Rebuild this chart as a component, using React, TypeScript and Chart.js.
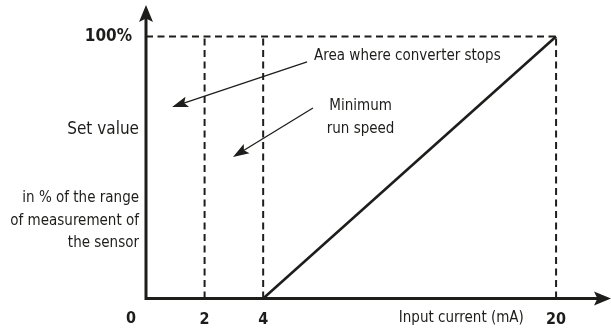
import React, { useEffect, useRef } from 'react';
import { Chart, registerables, LinearScale } from 'chart.js';

// ---- data ----
const X_TICKS = [2, 4, 20];
const X_TICK_LABELS = ['2', '4', '20'];
const Y_TICKS = [100];
const Y_TICK_LABELS = ['100%'];
const CURVE_X = [4, 20];
const CURVE_Y = [0, 100];
const GUIDE_X = [2, 4, 20];
const GUIDE_TOP = 100;
const X_MIN = 0;
const X_MAX = 23;
const Y_MIN = 0;
const Y_MAX = 112;
const ORIGIN_LABEL = '0';
const X_TITLE = 'Input current (mA)';
const Y_TITLE = 'Set value';
const Y_NOTE = ['in % of the range', 'of measurement of', 'the sensor'];
const NOTE_STOP = 'Area where converter stops';
const NOTE_MIN = ['Minimum', 'run speed'];

// ---- broken (schematic) x scale: 0..4 linear, 4..20 compressed ----
const BREAK = 4;
const COMPRESS = 0.625;
const warp = (v: number) => (v <= BREAK ? v : BREAK + (v - BREAK) * COMPRESS);
const unwarp = (u: number) => (u <= BREAK ? u : BREAK + (u - BREAK) / COMPRESS);

class BrokenScale extends LinearScale {
  static id = 'broken';
  static defaults = (LinearScale as any).defaults;
  getPixelForValue(value: number) {
    const a = warp((this as any).min);
    const b = warp((this as any).max);
    return (this as any).getPixelForDecimal((warp(value) - a) / (b - a));
  }
  getValueForPixel(pixel: number) {
    const a = warp((this as any).min);
    const b = warp((this as any).max);
    return unwarp(a + (this as any).getDecimalForPixel(pixel) * (b - a));
  }
}

Chart.register(...registerables, BrokenScale as any);

const INK = '#1d1d1b';
const FAMILY = "'DejaVu Sans Condensed', 'DejaVu Sans', sans-serif";

function arrowHead(ctx: CanvasRenderingContext2D, x0: number, y0: number, x1: number, y1: number, len: number, half: number) {
  const ang = Math.atan2(y1 - y0, x1 - x0);
  const bx = x1 - Math.cos(ang) * len;
  const by = y1 - Math.sin(ang) * len;
  const nx = x1 - Math.cos(ang) * len * 0.8;
  const ny = y1 - Math.sin(ang) * len * 0.8;
  ctx.beginPath();
  ctx.moveTo(x1, y1);
  ctx.lineTo(bx + Math.sin(ang) * half, by - Math.cos(ang) * half);
  ctx.lineTo(nx, ny);
  ctx.lineTo(bx - Math.sin(ang) * half, by + Math.cos(ang) * half);
  ctx.closePath();
  ctx.fill();
}

const annotate = {
  id: 'annotate',
  afterDraw(chart: any) {
    const { ctx, chartArea, scales } = chart;
    const sx = scales.x;
    const sy = scales.y;
    const px = (v: number) => sx.getPixelForValue(v);
    const py = (v: number) => sy.getPixelForValue(v);
    ctx.save();
    ctx.fillStyle = INK;
    ctx.strokeStyle = INK;

    // axes with arrows
    const ox = chartArea.left;
    const oy = chartArea.bottom;
    ctx.lineWidth = 3;
    ctx.beginPath();
    ctx.moveTo(ox, oy + 1.5);
    ctx.lineTo(ox, chartArea.top + 12);
    ctx.moveTo(ox - 1.5, oy);
    ctx.lineTo(chartArea.right - 12, oy);
    ctx.stroke();
    arrowHead(ctx, ox, oy, ox, chartArea.top, 17, 7);
    arrowHead(ctx, ox, oy, chartArea.right, oy, 17, 7);

    // callout arrows
    ctx.lineWidth = 1.3;
    const callouts = [
      [6.4, 90.3, 0.89, 73.1],
      [6.72, 72.7, 2.97, 54.0],
    ];
    callouts.forEach(([a, b, c, d]) => {
      const x0 = px(a), y0 = py(b), x1 = px(c), y1 = py(d);
      const ang = Math.atan2(y1 - y0, x1 - x0);
      ctx.beginPath();
      ctx.moveTo(x0, y0);
      ctx.lineTo(x1 - Math.cos(ang) * 10, y1 - Math.sin(ang) * 10);
      ctx.stroke();
      arrowHead(ctx, x0, y0, x1, y1, 16, 5.5);
    });

    // texts
    ctx.textBaseline = 'middle';
    ctx.font = `15px ${FAMILY}`;
    ctx.textAlign = 'left';
    ctx.fillText(NOTE_STOP, px(6.78), py(92.5));
    ctx.textAlign = 'center';
    ctx.fillText(NOTE_MIN[0], px(9.32), py(73.4));
    ctx.fillText(NOTE_MIN[1], px(9.32), py(64.6));

    ctx.textAlign = 'right';
    ctx.fillText(X_TITLE, px(18.24), py(-7.5));
    const noteY = [38.3, 29.5, 21.1];
    Y_NOTE.forEach((t, i) => ctx.fillText(t, ox - 7, py(noteY[i])));
    ctx.font = `17px ${FAMILY}`;
    ctx.fillText(Y_TITLE, ox - 7, py(64.3));

    ctx.textAlign = 'center';
    ctx.font = `bold 16px ${FAMILY}`;
    ctx.fillText(ORIGIN_LABEL, px(-0.51), py(-7.8));
    ctx.restore();
  },
};

export default function App() {
  const ref = useRef<HTMLCanvasElement | null>(null);
  useEffect(() => {
    if (!ref.current) return;
    const dash = [7, 4.5];
    const guide = (pts: { x: number; y: number }[]) => ({
      data: pts,
      showLine: true,
      borderColor: INK,
      borderWidth: 2,
      borderDash: dash,
      pointRadius: 0,
      fill: false,
    });
    const datasets: any[] = [
      guide([{ x: X_MIN, y: GUIDE_TOP }, { x: GUIDE_X[GUIDE_X.length - 1], y: GUIDE_TOP }]),
      ...GUIDE_X.map((gx) => guide([{ x: gx, y: Y_MIN }, { x: gx, y: GUIDE_TOP }])),
      {
        data: CURVE_X.map((x, i) => ({ x, y: CURVE_Y[i] })),
        showLine: true,
        borderColor: INK,
        borderWidth: 2.6,
        pointRadius: 0,
        fill: false,
      },
    ];
    const chart = new Chart(ref.current, {
      type: 'scatter',
      data: { datasets },
      options: {
        animation: false,
        responsive: false,
        maintainAspectRatio: false,
        layout: { padding: { top: 5, right: 0, left: 0, bottom: 0 } },
        plugins: { legend: { display: false }, tooltip: { enabled: false } },
        scales: {
          x: {
            type: 'broken' as any,
            min: X_MIN,
            max: X_MAX,
            grid: { display: false, drawTicks: false },
            border: { display: false },
            afterBuildTicks: (s: any) => {
              s.ticks = X_TICKS.map((v) => ({ value: v }));
            },
            afterFit: (s: any) => {
              s.height = 34.5;
              s.paddingLeft = 0;
              s.paddingRight = 0;
              s.paddingTop = 0;
              s.paddingBottom = 0;
            },
            ticks: {
              autoSkip: false,
              maxRotation: 0,
              padding: 12,
              color: INK,
              font: { family: FAMILY, size: 16, weight: 'bold' },
              callback: (v: any) => X_TICK_LABELS[X_TICKS.indexOf(Number(v))] ?? '',
            },
          } as any,
          y: {
            type: 'linear',
            min: Y_MIN,
            max: Y_MAX,
            grid: { display: false, drawTicks: false },
            border: { display: false },
            afterBuildTicks: (s: any) => {
              s.ticks = Y_TICKS.map((v) => ({ value: v }));
            },
            afterFit: (s: any) => {
              s.width = 146;
              s.paddingLeft = 0;
              s.paddingRight = 0;
              s.paddingTop = 0;
              s.paddingBottom = 0;
            },
            ticks: {
              autoSkip: false,
              padding: 14,
              color: INK,
              font: { family: FAMILY, size: 17, weight: 'bold' },
              callback: (v: any) => Y_TICK_LABELS[Y_TICKS.indexOf(Number(v))] ?? '',
            },
          },
        },
      },
      plugins: [annotate],
    });
    return () => chart.destroy();
  }, []);
  return (
    <div style={{ position: 'fixed', left: 0, top: 0, width: 611, height: 333, background: '#fff' }}>
      <canvas ref={ref} width={611} height={333} style={{ display: 'block' }} />
    </div>
  );
}
